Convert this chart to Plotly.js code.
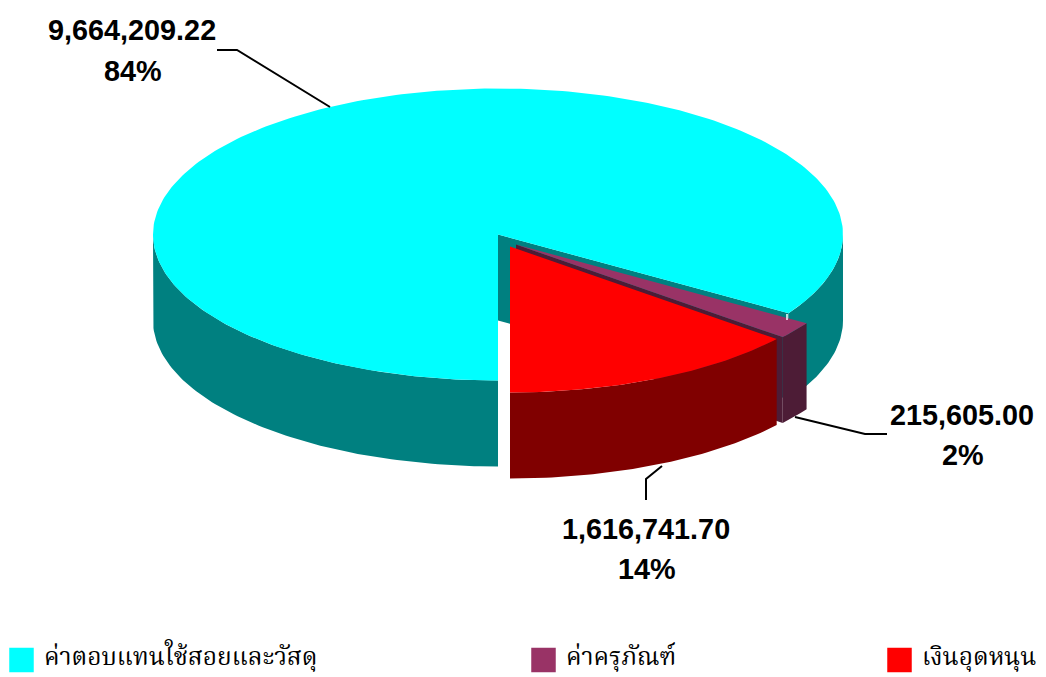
<!DOCTYPE html>
<html>
<head>
<meta charset="utf-8">
<script src="https://cdn.plot.ly/plotly-3.0.1.min.js"></script>
<style>html,body{margin:0;padding:0;background:#fff;overflow:hidden}</style>
</head>
<body>
<div id="chart" style="width:1046px;height:677px"></div>
<script>
const categories = ["ค่าตอบแทนใช้สอยและวัสดุ", "ค่าครุภัณฑ์", "เงินอุดหนุน"];
const values = [9664209.22, 215605.00, 1616741.70];
const valueLabels = ["9,664,209.22", "215,605.00", "1,616,741.70"];
const percentLabels = ["84%", "2%", "14%"];
const topColors = ["#00ffff", "#993366", "#ff0000"];
const sideColors = ["#008080", "#4d1c36", "#800000"];

const cx = 498, cy = 234.5, rx = 345, ry = 146, depth = 86, startAngle = 180;
const explode = [[0, 0], [18, 10], [12, 12]];
const total = values.reduce((a, b) => a + b, 0);
const rad = d => d * Math.PI / 180;
const traces = [];

function poly(name, xs, ys, color) {
  traces.push({type: "scatter", mode: "lines", name, x: xs, y: ys, fill: "toself", fillcolor: color,
    line: {width: 0, color}, hoverinfo: "skip", showlegend: false});
}
function arc(a1, a2, ox, oy, dy) {
  const n = Math.max(2, Math.ceil(Math.abs(a2 - a1)));
  const xs = [], ys = [];
  for (let i = 0; i <= n; i++) {
    const a = rad(a1 + (a2 - a1) * i / n);
    xs.push(cx + ox + rx * Math.sin(a));
    ys.push(cy + oy + dy - ry * Math.cos(a));
  }
  return {xs, ys};
}

let angle = startAngle;
values.forEach((v, i) => {
  const a1 = angle, a2 = angle + v / total * 360;
  angle = a2;
  const [ox, oy] = explode[i];
  const ax = cx + ox, ay = cy + oy;
  const e = arc(a2, a2, ox, oy, 0);
  poly(categories[i], [ax, e.xs[0], e.xs[0], ax, ax], [ay, e.ys[0], e.ys[0] + depth, ay + depth, ay], sideColors[i]);
  [[90, 270], [450, 630]].forEach(([lo, hi]) => {
    const s = Math.max(a1, lo), t = Math.min(a2, hi);
    if (s < t) {
      const up = arc(s, t, ox, oy, 0), down = arc(t, s, ox, oy, depth);
      poly(categories[i], up.xs.concat(down.xs), up.ys.concat(down.ys), sideColors[i]);
    }
  });
  const top = arc(a1, a2, ox, oy, 0);
  poly(categories[i], [ax].concat(top.xs, [ax]), [ay].concat(top.ys, [ay]), topColors[i]);
});

const legendBoxX = [21.5, 543.5, 899.5];
const legendTextX = [44, 566, 922];
const legendY = 660;
traces.push({type: "scatter", mode: "markers", x: legendBoxX, y: legendBoxX.map(() => legendY),
  marker: {symbol: "square", size: 24.5, color: topColors, line: {width: 0}}, hoverinfo: "skip", showlegend: false});

const labelX = [[132, 133], [962, 963], [646, 647]];
const labelY = [[30, 71], [415, 454.5], [529, 569]];
const labelFont = {family: "Liberation Sans, Arial, sans-serif", size: 28.8, color: "#000"};
const annotations = [];
categories.forEach((c, i) => {
  [valueLabels[i], percentLabels[i]].forEach((t, k) => {
    annotations.push({x: labelX[i][k], y: labelY[i][k], xref: "x", yref: "y", text: "<b>" + t + "</b>", showarrow: false,
      xanchor: "center", yanchor: "middle", font: labelFont});
  });
  annotations.push({x: legendTextX[i], y: 658.5, xref: "x", yref: "y", text: c, showarrow: false,
    xanchor: "left", yanchor: "middle", xshift: -2,
    font: {family: "Norasi, Kinnari, Noto Serif Thai, Liberation Serif, serif", size: 24.5, color: "#000"}});
});

const leader = [
  "M 217 50 L 237 50 L 330 107",
  "M 795 417 L 865 434 L 887 434",
  "M 662 466 L 646 479 L 646 500"
];
const shapes = leader.map(path => ({type: "path", path, xref: "x", yref: "y", line: {color: "#000", width: 2}}));
shapes.push({type: "line", xref: "x", yref: "y", x0: 787, x1: 787, y0: 314, y1: 320, line: {color: "#fff", width: 1.5}});

Plotly.newPlot("chart", traces, {
  width: 1046, height: 677, margin: {l: 0, r: 0, t: 0, b: 0},
  paper_bgcolor: "#fff", plot_bgcolor: "#fff", showlegend: false,
  xaxis: {range: [0, 1046], visible: false, fixedrange: true},
  yaxis: {range: [677, 0], visible: false, fixedrange: true},
  annotations, shapes
}, {displayModeBar: false, staticPlot: true});
</script>
</body>
</html>
